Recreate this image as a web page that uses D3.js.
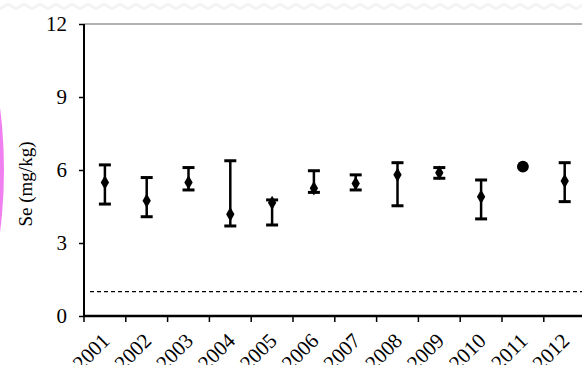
<!DOCTYPE html>
<html>
<head>
<meta charset="utf-8">
<script src="https://cdn.jsdelivr.net/npm/d3@7"></script>
<style>
  body { margin: 0; background: #fff; }
  svg { display: block; font-family: "Liberation Serif", "Times New Roman", serif; }
</style>
</head>
<body>
<svg id="chart" width="582" height="365"></svg>
<script>
// Se concentration per year, mean with low/high range
var years = ["2001","2002","2003","2004","2005","2006","2007","2008","2009","2010","2011","2012"]
var means = [5.49, 4.74, 5.49, 4.18, 4.65, 5.25, 5.45, 5.80, 5.89, 4.90, 6.14, 5.55]
var lows  = [4.60, 4.08, 5.18, 3.70, 3.74, 5.08, 5.18, 4.53, 5.66, 3.99, null, 4.70]
var highs = [6.21, 5.69, 6.10, 6.38, 4.77, 5.97, 5.80, 6.30, 6.10, 5.59, null, 6.30]
var yTicks = [0, 3, 6, 9, 12]
var limit = 1

var svg = d3.select('#chart')
var mLeft = 84, mTop = 24, mBottom = 316, bandW = 41.8

var x = d3.scaleBand().domain(years).range([mLeft, mLeft + bandW*years.length])
var y = d3.scaleLinear().domain([0, 12]).range([mBottom, mTop])

// faint zigzag strip at the very top
var zz = d3.range(0, 600, 8).map(function(d, i){ return [d, i%2 ? 4 : 9] })
svg.append('path')
  .attr('d', d3.line()(zz))
  .attr('fill','none').attr('stroke','#f4f4f4').attr('stroke-width',3)

// magenta edge artefact on the left
var grad = svg.append('defs').append('linearGradient').attr('id','mag')
  .attr('x1',0).attr('x2',1)
grad.append('stop').attr('offset','0%').attr('stop-color','#ff30ff')
grad.append('stop').attr('offset','100%').attr('stop-color','#f080f0')
svg.append('ellipse')
  .attr('cx', -96).attr('cy', 170).attr('rx', 100).attr('ry', 223)
  .attr('fill','url(#mag)')

// top frame line
svg.append('line')
  .attr('x1', mLeft).attr('x2', 582).attr('y1', y(12)).attr('y2', y(12))
  .attr('stroke','#999').attr('stroke-width',1.5)

// detection limit
svg.append('line')
  .attr('x1', mLeft+6).attr('x2', 582).attr('y1', y(limit)).attr('y2', y(limit))
  .attr('stroke','#000').attr('stroke-width',1.3).attr('stroke-dasharray','4,3')

// y axis
var yAxis = svg.append('g').attr('transform','translate('+mLeft+',0)')
  .call(d3.axisLeft(y).tickValues(yTicks).tickSize(5).tickPadding(12))
yAxis.select('.domain').attr('stroke-width',2).attr('d','M0,'+mTop+'V'+mBottom)
yAxis.selectAll('.tick line').attr('stroke-width',1.5)
yAxis.selectAll('text').attr('font-size',21).attr('fill','#000')
  .attr('font-family','"Liberation Serif", serif')

// x axis with ticks on band edges
svg.append('line')
  .attr('x1', mLeft).attr('x2', 582).attr('y1', mBottom).attr('y2', mBottom)
  .attr('stroke','#000').attr('stroke-width',2.5)
svg.selectAll('.xt').data(years).enter().append('line')
  .attr('x1', function(d){ return x(d) }).attr('x2', function(d){ return x(d) })
  .attr('y1', mBottom).attr('y2', mBottom+6)
  .attr('stroke','#000').attr('stroke-width',1.5)
svg.selectAll('.xl').data(years).enter().append('text')
  .attr('transform', function(d){ return 'translate('+(x(d)+x.bandwidth()/2+6)+','+(mBottom+26)+') rotate(-45)' })
  .attr('text-anchor','end')
  .attr('font-size',21)
  .text(function(d){ return d })

// y label
svg.append('text')
  .attr('transform','translate(32,184) rotate(-90)')
  .attr('text-anchor','middle')
  .attr('font-size',19)
  .text('Se (mg/kg)')

// error bars
var idx = d3.range(years.length).filter(function(i){ return lows[i] != null })
var cx = function(i){ return x(years[i]) + x.bandwidth()/2 }
svg.selectAll('.eb').data(idx).enter().append('line')
  .attr('x1', cx).attr('x2', cx)
  .attr('y1', function(i){ return y(lows[i]) }).attr('y2', function(i){ return y(highs[i]) })
  .attr('stroke','#000').attr('stroke-width',2.5)
svg.selectAll('.capH').data(idx).enter().append('line')
  .attr('x1', function(i){ return cx(i)-6 }).attr('x2', function(i){ return cx(i)+6 })
  .attr('y1', function(i){ return y(highs[i]) }).attr('y2', function(i){ return y(highs[i]) })
  .attr('stroke','#000').attr('stroke-width',3)
svg.selectAll('.capL').data(idx).enter().append('line')
  .attr('x1', function(i){ return cx(i)-6 }).attr('x2', function(i){ return cx(i)+6 })
  .attr('y1', function(i){ return y(lows[i]) }).attr('y2', function(i){ return y(lows[i]) })
  .attr('stroke','#000').attr('stroke-width',3)

// markers: diamonds, circle for the single 2011 value
svg.selectAll('.pt').data(d3.range(years.length)).enter().append('path')
  .attr('d', function(i){
    return lows[i] == null ? d3.symbol(d3.symbolCircle, 110)() : d3.symbol(d3.symbolDiamond, 60)()
  })
  .attr('transform', function(i){ return 'translate('+cx(i)+','+y(means[i])+')' })
  .attr('fill','#000')
</script>
</body>
</html>
